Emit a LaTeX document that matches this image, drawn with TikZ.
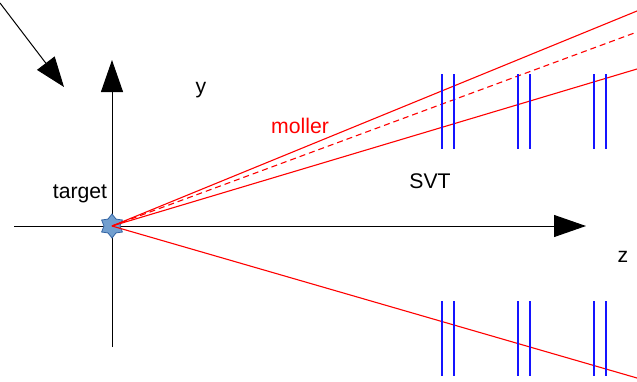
\documentclass[tikz,border=0pt]{standalone}
\usepackage{fontspec}
\setmainfont{Liberation Sans}
\usepackage{xcolor}
\usepackage{tikz}
\usetikzlibrary{positioning}
\usetikzlibrary{arrows.meta}
\usetikzlibrary{shapes.geometric}

\definecolor{trackred}{RGB}{255,0,0}
\definecolor{layerblue}{RGB}{20,20,255}
\definecolor{starfill}{RGB}{114,159,207}
\definecolor{starline}{RGB}{52,101,164}

\begin{document}
\begin{tikzpicture}[x=0.5pt,y=-0.5pt,
    axis/.style={line width=0.5pt,-{Triangle[width=11pt,length=16pt]}},
    track/.style={trackred,line width=0.55pt},
    layer/.style={layerblue,line width=0.7pt},
    lbl/.style={font=\fontsize{10.6}{12}\selectfont,inner sep=0pt}]
    \useasboundingbox (0,0) rectangle (637,381);

    \coordinate (o)  at (112,226);
    \coordinate (yb) at (112,347);
    \coordinate (yt) at (112,60);
    \coordinate (zl) at (14,226);
    \coordinate (zr) at (586,226);
    \coordinate (b0) at (0,3);
    \coordinate (b1) at (64,87);

    \coordinate (t1) at (637,11);
    \coordinate (t2) at (637,32);
    \coordinate (t3) at (637,69);
    \coordinate (t4) at (637,378);

    % axes and beam
    \draw[axis] (yb) -- (yt);
    \draw[axis] (zl) -- (zr);
    \draw[axis,-{Triangle[width=11pt,length=15pt]}] (b0) -- (b1);

    \node[star,star points=6,star point ratio=1.5,minimum size=12pt,inner sep=0pt,
          fill=starfill,draw=starline,line width=0.4pt] (target) at (o) {};

    % tracks
    \draw[track] (target.center) -- (t1);
    \draw[track,dashed,dash pattern=on 3pt off 2pt] (target.center) -- (t2);
    \draw[track] (target.center) -- (t3);
    \draw[track] (target.center) -- (t4);

    % SVT layers
    \foreach \x in {442,454,518,530,594,606}{
        \coordinate (u1) at (\x,74);
        \coordinate (u2) at (\x,149);
        \coordinate (d1) at (\x,301);
        \coordinate (d2) at (\x,376);
        \draw[layer] (u1) -- (u2);
        \draw[layer] (d1) -- (d2);
    }

    \node[lbl] (ylab) at (201,90) {y};
    \node[lbl] (zlab) at (623,257) {z};
    \node[lbl,trackred] (moller) at (300,126) {moller};
    \node[lbl] (tlab) at (80,194) {target};
    \node[lbl] (svt) at (430,181) {SVT};
\end{tikzpicture}
\end{document}
